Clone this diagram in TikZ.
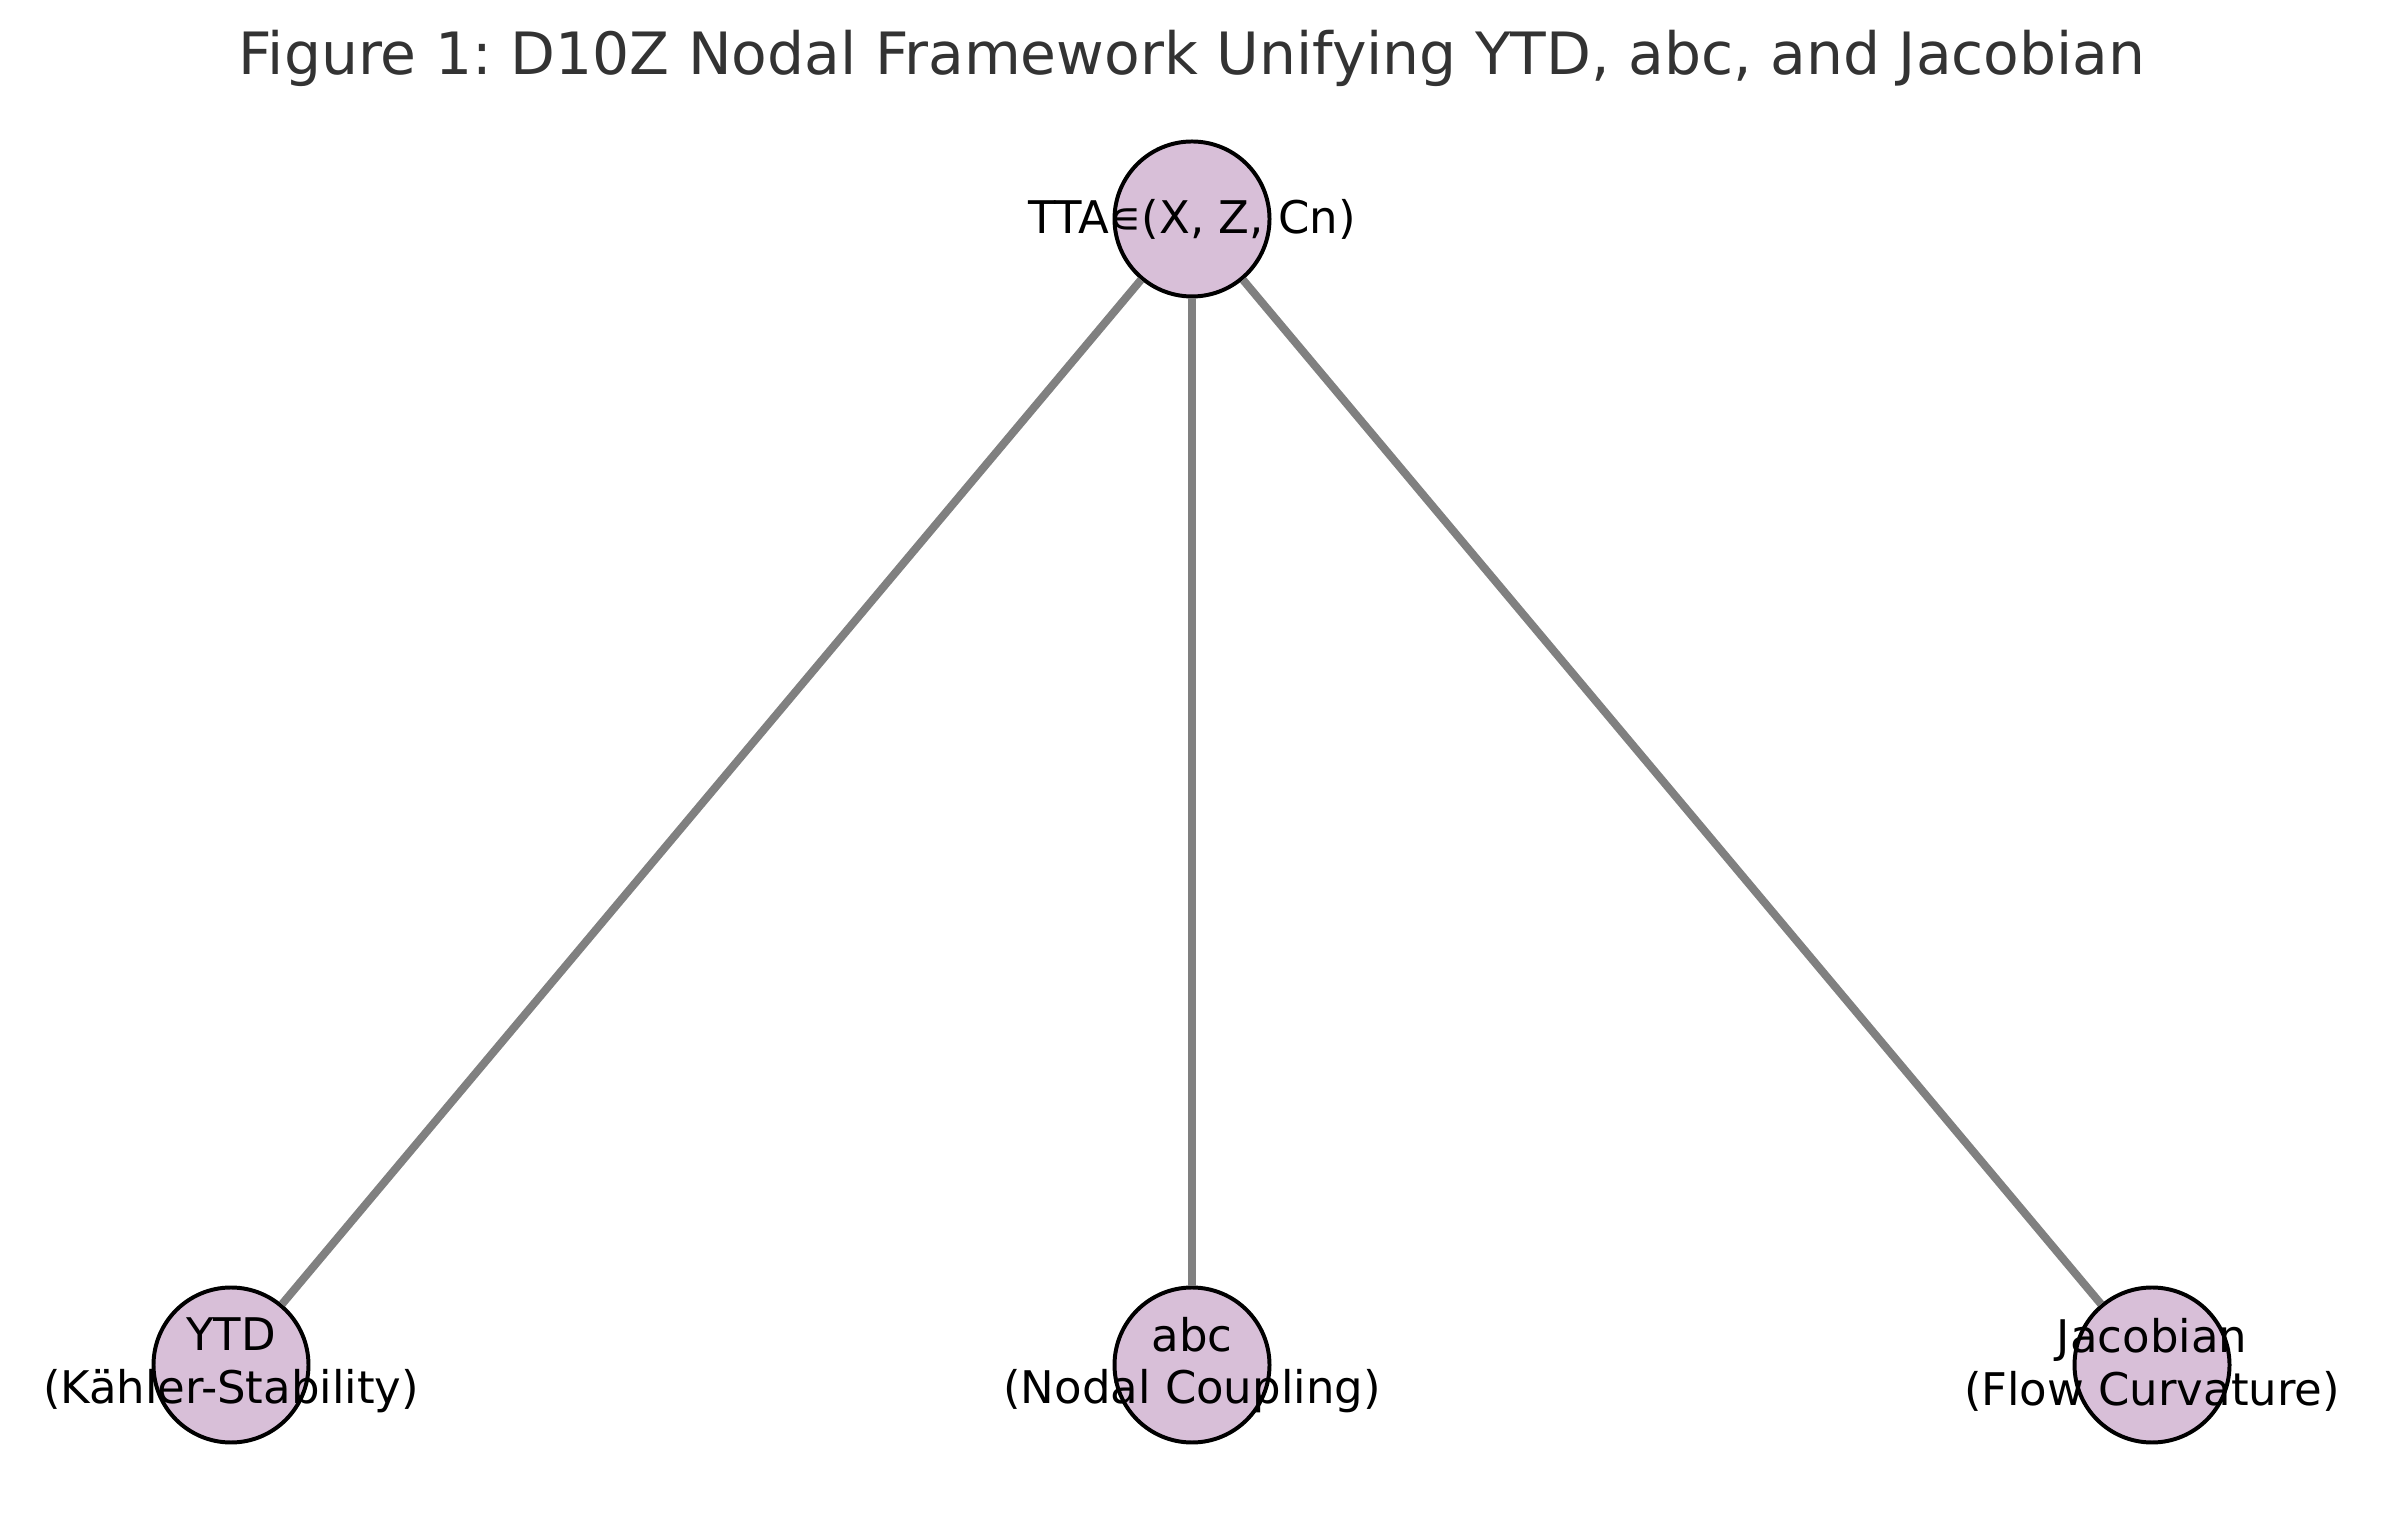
\documentclass[tikz,border=0pt]{standalone}
\usepackage{fontspec}
\setmainfont{DejaVu Sans}
\frenchspacing
\definecolor{nodefill}{HTML}{D8BFD8}
\definecolor{edgegray}{HTML}{808080}
\definecolor{titlegray}{HTML}{333333}
\tikzset{
    vertex/.style={circle, draw=black, line width=1.13pt, fill=nodefill, minimum size=1.55cm, inner sep=0pt},
    vlabel/.style={font=\fontsize{12.8}{15}\selectfont, align=center, text=black},
    link/.style={edgegray, line width=2.27pt}
}
\begin{document}
\begin{tikzpicture}

    \useasboundingbox (0,0) rectangle (23.85,15.16);

    % title
    \node[font=\fontsize{16.6}{20}\selectfont, text=titlegray] (title) at (11.92,14.58)
        {Figure 1: D10Z Nodal Framework Unifying YTD, abc, and Jacobian};

    % nodes
    \node[vertex] (tta) at (11.92,12.97) {};
    \node[vertex] (ytd) at (2.31,1.51) {};
    \node[vertex] (abc) at (11.92,1.51) {};
    \node[vertex] (jac) at (21.52,1.51) {};

    % edges
    \draw[link] (tta) -- (ytd);
    \draw[link] (tta) -- (abc);
    \draw[link] (tta) -- (jac);

    % labels
    \node[vlabel] (ttalabel) at (tta) {TTA∊(X, Z, Cn)};
    \node[vlabel] (ytdlabel) at (ytd) {YTD\\(Kähler-Stability)};
    \node[vlabel] (abclabel) at (abc) {abc\\(Nodal Coupling)};
    \node[vlabel] (jaclabel) at (jac) {Jacobian\\(Flow Curvature)};

\end{tikzpicture}
\end{document}
